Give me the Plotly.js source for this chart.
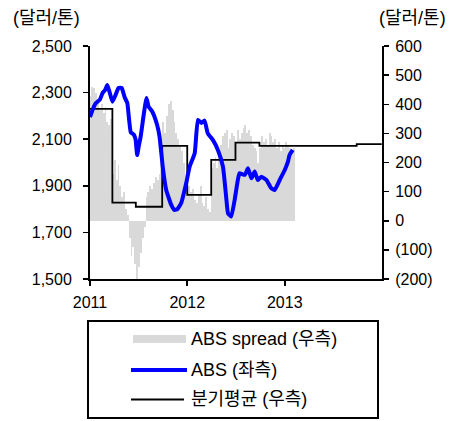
<!DOCTYPE html>
<html>
<head>
<meta charset="utf-8">
<script src="https://cdn.plot.ly/plotly-3.0.1.min.js"></script>
<style>
html,body{margin:0;padding:0;background:#fff;}
#chart{width:466px;height:421px;}
</style>
</head>
<body>
<div id="chart"></div>
<script>
// ABS price (left axis, USD/ton)
const absDates = ['2011-01-01','2011-01-12','2011-01-23','2011-02-07','2011-02-18','2011-02-26','2011-03-07','2011-03-16','2011-03-26','2011-04-07','2011-04-18','2011-04-30','2011-05-11','2011-05-21','2011-06-03','2011-06-14','2011-06-21','2011-06-27','2011-07-03','2011-07-10','2011-07-21','2011-08-01','2011-08-09','2011-08-23','2011-09-10','2011-09-19','2011-10-01','2011-10-14','2011-11-02','2011-11-14','2011-11-25','2011-12-09','2011-12-28','2012-01-10','2012-01-29','2012-02-10','2012-02-23','2012-03-06','2012-03-18','2012-04-06','2012-04-25','2012-05-14','2012-05-26','2012-06-02','2012-06-14','2012-06-27','2012-07-09','2012-07-15','2012-08-04','2012-08-16','2012-08-29','2012-09-10','2012-09-22','2012-10-05','2012-10-24','2012-11-11','2012-11-24','2012-12-13','2013-01-01','2013-01-13','2013-01-19','2013-01-31'];
const absValues = [2195,2230,2255,2270,2300,2310,2333,2300,2261,2290,2320,2320,2280,2255,2130,2120,2100,2032,2070,2110,2200,2277,2240,2218,2161,2111,1982,1882,1818,1796,1800,1825,1911,1982,2040,2183,2170,2180,2125,2097,2054,1982,1853,1782,1768,1840,1925,1954,1947,1975,1932,1961,1925,1939,1925,1890,1882,1925,1968,2004,2032,2054];

// ABS spread (right axis), weekly
const spreadStart = '2011-01-03';
const spreadValues = [430,460,455,440,410,380,400,370,390,340,330,350,
  160,210,140,190,120,80,100,40,20,-60,-120,-90,-150,-200,-160,-110,-60,-20,
  80,100,120,110,130,150,140,160,200,
  340,300,360,400,410,380,340,300,280,260,240,200,160,
  140,120,100,110,70,60,90,120,60,50,80,40,30,
  180,200,220,180,240,260,290,300,310,250,280,300,290,
  270,310,280,300,320,330,300,310,290,260,250,240,200,
  250,290,270,280,260,300,290,270,280,250,270,240,260,250,
  270,260,250,240,250];

// Quarterly average of spread (right axis)
const qDates = ['2011-01-01','2011-03-26','2011-06-22','2011-09-29','2012-01-01','2012-03-31','2012-06-30','2012-09-28','2013-09-28','2013-12-31'];
const qValues = [384,62,48,257,89,209,268,257,263,263];

const leftTicks = [1500,1700,1900,2100,2300,2500];
const rightTicks = [-200,-100,0,100,200,300,400,500,600];
const rightTickText = ['(200)','(100)','0','100','200','300','400','500','600'];
const yearTicks = ['2011-01-01','2012-01-01','2013-01-01'];
const yearText = ['2011','2012','2013'];

const legendNames = ['ABS spread (우측)','ABS (좌측)','분기평균 (우측)'];

// weekly dates
const spreadDates = spreadValues.map((v,i)=>{
  const d = new Date(spreadStart+'T00:00:00Z');
  d.setUTCDate(d.getUTCDate()+7*i);
  return d.toISOString().slice(0,10);
});

const FONT = 'Liberation Sans, Arial, Noto Sans CJK KR, sans-serif';
const W = 466, H = 421;
const L = 90, R = 84, T = 46, B = 142;
const pw = W-L-R, ph = H-T-B;
const px = x => (x-L)/pw;
const py = y => (H-B-y)/ph;

const traces = [
  {type:'bar', x:spreadDates, y:spreadValues, yaxis:'y', width:7*86400000,
   marker:{color:'#d9d9d9', line:{width:0}}, name:legendNames[0], hoverinfo:'x+y'},
  {type:'scatter', mode:'lines', x:qDates, y:qValues, yaxis:'y',
   line:{color:'#000000', width:1.8, shape:'hv'}, name:legendNames[2]},
  {type:'scatter', mode:'lines', x:absDates, y:absValues, yaxis:'y2',
   line:{color:'#0000ff', width:4, shape:'spline', smoothing:0.4}, name:legendNames[1]}
];

const shapes = [
  {type:'rect', xref:'paper', yref:'paper', x0:px(88), x1:px(378), y0:py(418), y1:py(321),
   line:{color:'#000', width:2}, fillcolor:'rgba(0,0,0,0)'},
  {type:'rect', xref:'paper', yref:'paper', x0:px(133), x1:px(186), y0:py(343), y1:py(335),
   line:{width:0}, fillcolor:'#d9d9d9'},
  {type:'line', xref:'paper', yref:'paper', x0:px(131), x1:px(187), y0:py(370), y1:py(370),
   line:{color:'#0000ff', width:4}},
  {type:'line', xref:'paper', yref:'paper', x0:px(131), x1:px(184), y0:py(399.5), y1:py(399.5),
   line:{color:'#000', width:2}}
];

const legY = [339, 370, 399];
const annotations = [
  {xref:'paper', yref:'paper', x:px(46), y:py(18), text:'(달러/톤)', showarrow:false,
   xanchor:'center', yanchor:'middle', font:{size:18, color:'#000', family:FONT}},
  {xref:'paper', yref:'paper', x:px(412), y:py(18), text:'(달러/톤)', showarrow:false,
   xanchor:'center', yanchor:'middle', font:{size:18, color:'#000', family:FONT}}
].concat(legendNames.map((t,i)=>({
   xref:'paper', yref:'paper', x:px(189), y:py(legY[i]), text:t, showarrow:false,
   xanchor:'left', yanchor:'middle', font:{size:18, color:'#000', family:FONT}
})));

const layout = {
  width:W, height:H,
  margin:{l:L, r:R, t:T, b:B, pad:0},
  paper_bgcolor:'#fff', plot_bgcolor:'#fff',
  showlegend:false,
  bargap:0,
  font:{family:FONT, size:16, color:'#000'},
  xaxis:{type:'date', range:['2011-01-01','2014-01-01'], tickvals:yearTicks, ticktext:yearText,
    showgrid:false, zeroline:false, showline:true, linecolor:'#000', linewidth:2,
    ticks:'outside', ticklen:5, tickwidth:1.5, tickcolor:'#000', tickfont:{size:16}, ticklabelstandoff:3},
  yaxis:{side:'right', range:[-200,600], tickvals:rightTicks, ticktext:rightTickText,
    showgrid:false, zeroline:false, showline:true, linecolor:'#000', linewidth:2,
    ticks:'outside', ticklen:5, tickwidth:1.5, tickcolor:'#000', tickfont:{size:16}, ticklabelstandoff:3},
  yaxis2:{overlaying:'y', side:'left', range:[1500,2500], tickvals:leftTicks,
    tickformat:',d', showgrid:false, zeroline:false, showline:true, linecolor:'#000', linewidth:2,
    ticks:'outside', ticklen:5, tickwidth:1.5, tickcolor:'#000', tickfont:{size:16}, ticklabelstandoff:8},
  shapes:shapes,
  annotations:annotations
};

Plotly.newPlot('chart', traces, layout, {staticPlot:true, displayModeBar:false});
</script>
</body>
</html>
